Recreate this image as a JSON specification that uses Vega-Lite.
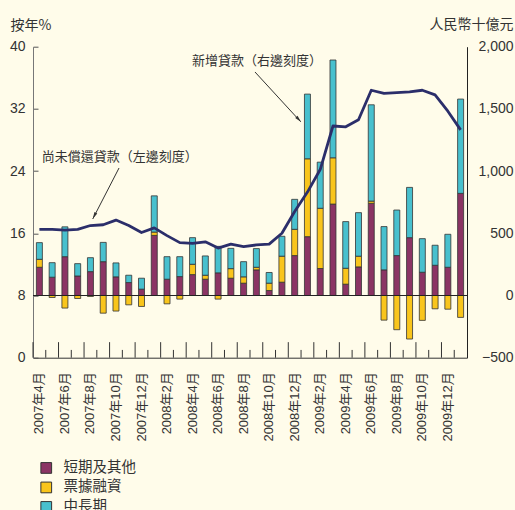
{
  "$schema": "https://vega.github.io/schema/vega-lite/v6.json",
  "width": 434,
  "height": 311,
  "autosize": "none",
  "padding": {"left": 33, "top": 46.7, "right": 48, "bottom": 152.3},
  "background": "#FFFCEA",
  "config": {
    "view": {"stroke": null},
    "font": "Liberation Sans, Noto Sans CJK TC",
    "axis": {"labelColor": "#333333", "titleColor": "#333333", "titleFont": "Noto Sans CJK TC, Liberation Sans", "titleFontWeight": "normal", "grid": false},
    "legend": {"labelFont": "Noto Sans CJK TC", "labelColor": "#333333"}
  },
  "data": {
    "values": [
      {"m": "2007年4月", "短期及其他": 227, "票據融資": 64, "中長期": 134, "貸款增長": 16.5},
      {"m": "2007年5月", "短期及其他": 147, "票據融資": -16, "中長期": 117, "貸款增長": 16.5},
      {"m": "2007年6月", "短期及其他": 312, "票據融資": -101, "中長期": 240, "貸款增長": 16.4},
      {"m": "2007年7月", "短期及其他": 157, "票據融資": -24, "中長期": 99, "貸款增長": 16.5},
      {"m": "2007年8月", "短期及其他": 192, "票據融資": -8, "中長期": 112, "貸款增長": 17.0},
      {"m": "2007年9月", "短期及其他": 272, "票據融資": -142, "中長期": 155, "貸款增長": 17.1},
      {"m": "2007年10月", "短期及其他": 150, "票據融資": -125, "中長期": 112, "貸款增長": 17.7},
      {"m": "2007年11月", "短期及其他": 104, "票據融資": -75, "中長期": 59, "貸款增長": 17.0},
      {"m": "2007年12月", "短期及其他": 51, "票據融資": -88, "中長期": 88, "貸款增長": 16.1},
      {"m": "2008年1月", "短期及其他": 483, "票據融資": 27, "中長期": 291, "貸款增長": 16.7},
      {"m": "2008年2月", "短期及其他": 131, "票據融資": -67, "中長期": 181, "貸款增長": 15.7},
      {"m": "2008年3月", "短期及其他": 152, "票據融資": -29, "中長期": 160, "貸款增長": 14.8},
      {"m": "2008年4月", "短期及其他": 168, "票據融資": 83, "中長期": 214, "貸款增長": 14.7},
      {"m": "2008年5月", "短期及其他": 131, "票據融資": 32, "中長期": 155, "貸款增長": 14.9},
      {"m": "2008年6月", "短期及其他": 182, "票據融資": -29, "中長期": 213, "貸款增長": 14.1},
      {"m": "2008年7月", "短期及其他": 139, "票據融資": 77, "中長期": 163, "貸款增長": 14.6},
      {"m": "2008年8月", "短期及其他": 99, "票據融資": 51, "中長期": 122, "貸款增長": 14.3},
      {"m": "2008年9月", "短期及其他": 206, "票據融資": 21, "中長期": 150, "貸款增長": 14.5},
      {"m": "2008年10月", "短期及其他": 40, "票據融資": 59, "中長期": 86, "貸款增長": 14.6},
      {"m": "2008年11月", "短期及其他": 107, "票據融資": 209, "中長期": 160, "貸款增長": 16.0},
      {"m": "2008年12月", "短期及其他": 321, "票據融資": 211, "中長期": 241, "貸款增長": 18.8},
      {"m": "2009年1月", "短期及其他": 473, "票據融資": 626, "中長期": 520, "貸款增長": 21.3},
      {"m": "2009年2月", "短期及其他": 217, "票據融資": 484, "中長期": 371, "貸款增長": 24.2},
      {"m": "2009年3月", "短期及其他": 735, "票據融資": 372, "中長期": 786, "貸款增長": 29.8},
      {"m": "2009年4月", "短期及其他": 91, "票據融資": 128, "中長期": 375, "貸款增長": 29.7},
      {"m": "2009年5月", "短期及其他": 230, "票據融資": 86, "中長期": 350, "貸款增長": 30.6},
      {"m": "2009年6月", "短期及其他": 741, "票據融資": 18, "中長期": 774, "貸款增長": 34.4},
      {"m": "2009年7月", "短期及其他": 206, "票據融資": -198, "中長期": 348, "貸款增長": 34.0},
      {"m": "2009年8月", "短期及其他": 321, "票據融資": -275, "中長期": 366, "貸款增長": 34.1},
      {"m": "2009年9月", "短期及其他": 465, "票據融資": -350, "中長期": 404, "貸款增長": 34.2},
      {"m": "2009年10月", "短期及其他": 187, "票據融資": -200, "中長期": 270, "貸款增長": 34.4},
      {"m": "2009年11月", "短期及其他": 243, "票據融資": -107, "中長期": 161, "貸款增長": 33.8},
      {"m": "2009年12月", "短期及其他": 227, "票據融資": -110, "中長期": 265, "貸款增長": 31.7},
      {"m": "2010年1月", "短期及其他": 821, "票據融資": -176, "中長期": 758, "貸款增長": 29.3}
    ]
  },
  "layer": [
    {
      "transform": [
        {"fold": ["短期及其他", "票據融資", "中長期"], "as": ["類別", "值"]},
        {"window": [{"op": "row_number", "as": "次序"}], "groupby": ["m"]}
      ],
      "mark": {"type": "bar", "width": {"band": 0.47}, "stroke": "#333333", "strokeWidth": 0.8},
      "encoding": {
        "x": {
          "field": "m", "type": "ordinal",
          "scale": {"domain": ["2007年4月","2007年5月","2007年6月","2007年7月","2007年8月","2007年9月","2007年10月","2007年11月","2007年12月","2008年1月","2008年2月","2008年3月","2008年4月","2008年5月","2008年6月","2008年7月","2008年8月","2008年9月","2008年10月","2008年11月","2008年12月","2009年1月","2009年2月","2009年3月","2009年4月","2009年5月","2009年6月","2009年7月","2009年8月","2009年9月","2009年10月","2009年11月","2009年12月","2010年1月"], "paddingInner": 0, "paddingOuter": 0},
          "axis": {"orient": "bottom", "title": null, "ticks": false, "labelExpr": "test(/年(2|4|6|8|10|12)月$/, datum.label) ? datum.label : ''", "labelAngle": 270, "labelAlign": "right", "labelBaseline": "middle", "labelPadding": 14, "labelFont": "Liberation Sans, Noto Sans CJK TC", "labelFontSize": 13, "labelOverlap": false, "domainColor": "#333333"}
        },
        "y": {
          "field": "值", "type": "quantitative", "stack": "zero",
          "scale": {"domain": [-500, 2000], "nice": false, "zero": false},
          "axis": {"orient": "right", "values": [-500, 0, 500, 1000, 1500, 2000], "format": ",.0f", "ticks": false, "labelPadding": 46, "labelAlign": "right", "labelFont": "Liberation Sans", "labelFontSize": 14, "domainColor": "#222222", "title": "人民幣十億元", "titleAngle": 0, "titleX": 46, "titleY": -22, "titleAlign": "right", "titleBaseline": "middle", "titleFontSize": 14}
        },
        "color": {
          "field": "類別", "type": "nominal",
          "sort": ["短期及其他", "票據融資", "中長期"],
          "scale": {"domain": ["短期及其他", "票據融資", "中長期"], "range": ["#8B3464", "#F9C51C", "#48C0CE"]},
          "legend": {"orient": "none", "legendX": 6, "legendY": 414, "title": null, "symbolType": "square", "symbolSize": 115, "symbolStrokeColor": "#333333", "symbolStrokeWidth": 1, "symbolOpacity": 1, "labelFontSize": 14.5, "labelOffset": 10, "rowPadding": 3.5, "padding": 0}
        },
        "order": {"field": "次序", "type": "quantitative", "sort": "ascending"}
      }
    },
    {
      "data": {"values": [{}]},
      "mark": {"type": "rule", "color": "#222222", "strokeWidth": 1},
      "encoding": {"y": {"datum": 0, "type": "quantitative", "scale": {"domain": [-500, 2000], "nice": false}, "axis": null}}
    },
    {
      "layer": [
        {
          "mark": {"type": "line", "color": "#2B2E6A", "strokeWidth": 2.8, "strokeJoin": "round"},
          "encoding": {
            "x": {"field": "m", "type": "ordinal",
              "axis": {"orient": "bottom", "title": null, "ticks": false, "labelExpr": "test(/年(2|4|6|8|10|12)月$/, datum.label) ? datum.label : ''", "labelAngle": 270, "labelAlign": "right", "labelBaseline": "middle", "labelPadding": 14, "labelFont": "Liberation Sans, Noto Sans CJK TC", "labelFontSize": 13, "labelOverlap": false, "domainColor": "#333333"}},
            "y": {
              "field": "貸款增長", "type": "quantitative",
              "scale": {"domain": [0, 40], "nice": false},
              "axis": {"orient": "left", "values": [0, 4, 8, 12, 16, 20, 24, 28, 32, 36, 40], "tickSize": -5, "tickColor": "#555555", "labelPadding": 13, "labelFont": "Liberation Sans", "labelFontSize": 14, "domainColor": "#777777", "title": "按年%", "titleAngle": 0, "titleX": -23, "titleY": -21, "titleAlign": "left", "titleBaseline": "middle", "titleFontSize": 14}
            }
          }
        },
        {
          "transform": [{"filter": "test(/年(2|4|6|8|10|12)月$/, datum.m)"}],
          "mark": {"type": "rule", "color": "#333333", "strokeWidth": 1},
          "encoding": {
            "x": {"field": "m", "type": "ordinal", "bandPosition": 0},
            "y": {"datum": 0, "type": "quantitative"},
            "y2": {"datum": 2}
          }
        },
        {
          "transform": [{"filter": "!test(/年(2|4|6|8|10|12)月$/, datum.m)"}],
          "mark": {"type": "rule", "color": "#333333", "strokeWidth": 1},
          "encoding": {
            "x": {"field": "m", "type": "ordinal", "bandPosition": 0},
            "y": {"datum": 0, "type": "quantitative"},
            "y2": {"datum": 1}
          }
        },
        {
          "data": {"values": [{"t": "尚未償還貸款（左邊刻度）"}]},
          "mark": {"type": "text", "align": "left", "baseline": "middle", "fontSize": 13, "font": "Noto Sans CJK TC", "color": "#333333"},
          "encoding": {
            "text": {"field": "t"},
            "x": {"datum": "2007年4月", "type": "ordinal", "bandPosition": 0.68},
            "y": {"datum": 25.85, "type": "quantitative"}
          }
        },
        {
          "data": {"values": [{"t": "新增貸款（右邊刻度）"}]},
          "mark": {"type": "text", "align": "left", "baseline": "middle", "fontSize": 13, "font": "Noto Sans CJK TC", "color": "#333333"},
          "encoding": {
            "text": {"field": "t"},
            "x": {"datum": "2008年4月", "type": "ordinal", "bandPosition": 0.46},
            "y": {"datum": 38.2, "type": "quantitative"}
          }
        },
        {
          "data": {"values": [{}]},
          "mark": {"type": "rule", "color": "#333333", "strokeWidth": 1},
          "encoding": {
            "x": {"datum": "2007年10月", "type": "ordinal", "bandPosition": 0.74},
            "x2": {"datum": "2007年8月", "bandPosition": 0.68},
            "y": {"datum": 24.4, "type": "quantitative"},
            "y2": {"datum": 17.84}
          }
        },
        {
          "data": {"values": [{}]},
          "mark": {"type": "rule", "color": "#333333", "strokeWidth": 1},
          "encoding": {
            "x": {"datum": "2008年9月", "type": "ordinal", "bandPosition": 0.39},
            "x2": {"datum": "2008年12月", "bandPosition": 0.97},
            "y": {"datum": 36.75, "type": "quantitative"},
            "y2": {"datum": 30.35}
          }
        },
        {
          "data": {"values": [{}]},
          "mark": {"type": "point", "shape": "M0,-1L0.45,1L-0.45,1Z", "filled": true, "color": "#333333", "opacity": 1, "size": 49, "angle": 207},
          "encoding": {
            "x": {"datum": "2007年8月", "type": "ordinal", "bandPosition": 0.8},
            "y": {"datum": 18.24, "type": "quantitative"}
          }
        },
        {
          "data": {"values": [{}]},
          "mark": {"type": "point", "shape": "M0,-1L0.45,1L-0.45,1Z", "filled": true, "color": "#333333", "opacity": 1, "size": 49, "angle": 137},
          "encoding": {
            "x": {"datum": "2008年12月", "type": "ordinal", "bandPosition": 0.82},
            "y": {"datum": 30.64, "type": "quantitative"}
          }
        }
      ]
    }
  ],
  "resolve": {"scale": {"y": "independent"}, "axis": {"y": "independent"}}
}
